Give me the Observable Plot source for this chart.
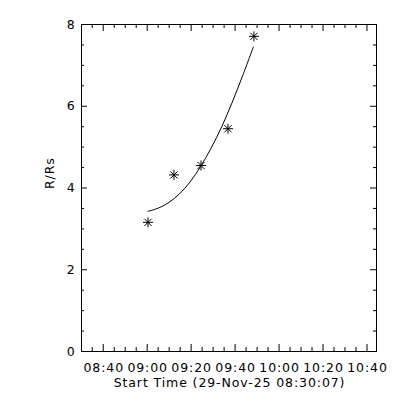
<!DOCTYPE html>
<html><head><meta charset="utf-8">
<script src="https://cdn.jsdelivr.net/npm/d3@7"></script>
<script src="https://cdn.jsdelivr.net/npm/@observablehq/plot@0.6"></script>
<style>html,body{margin:0;padding:0;background:#fff;}</style>
</head><body><div id="chart"></div>
<script>
// ---- data ----
const day = "2025-11-29";
const xDomain = ["08:30:07", "10:44:20"];
const obsTimes = ["09:00:23", "09:12:12", "09:24:29", "09:36:45", "09:48:34"];
const obsR = [3.16, 4.32, 4.55, 5.45, 7.71];
const fitTimes = ["09:00:23", "09:05:10", "09:09:58", "09:14:45", "09:19:33", "09:24:21", "09:29:08", "09:33:56", "09:38:43", "09:43:31", "09:48:18"];
const fitR = [3.43, 3.51, 3.65, 3.86, 4.15, 4.53, 4.98, 5.50, 6.10, 6.76, 7.45];
const xTickLabels = ["08:40", "09:00", "09:20", "09:40", "10:00", "10:20", "10:40"];
const xMinorTicks = ["08:35","08:45","08:50","08:55","09:05","09:10","09:15","09:25","09:30","09:35","09:45","09:50","09:55","10:05","10:10","10:15","10:25","10:30","10:35"];
const yTicks = [0, 2, 4, 6, 8];
const yMinorTicks = [0.5, 1, 1.5, 2.5, 3, 3.5, 4.5, 5, 5.5, 6.5, 7, 7.5];
const xLabel = "Start Time (29-Nov-25 08:30:07)";
const yLabel = "R/Rs";

const T = s => new Date(`${day}T${s.length === 5 ? s + ":00" : s}Z`);
const obs = obsTimes.map((t, i) => ({t: T(t), r: obsR[i]}));
const fit = fitTimes.map((t, i) => ({t: T(t), r: fitR[i]}));
const xMaj = xTickLabels.map(s => ({t: T(s), label: s}));
const xMin = xMinorTicks.map(s => ({t: T(s)}));

const W = 400, H = 400, mL = 81, mR = 24, mT = 24, mB = 49;
const pw = W - mL - mR, ph = H - mT - mB;

// 8-armed asterisk like IDL psym=2
const asterisk = {
  draw(ctx, size) {
    const r = Math.sqrt(size / Math.PI);
    const d = r * 0.72;
    ctx.moveTo(-r, 0); ctx.lineTo(r, 0);
    ctx.moveTo(0, -r); ctx.lineTo(0, r);
    ctx.moveTo(-d, -d); ctx.lineTo(d, d);
    ctx.moveTo(-d, d); ctx.lineTo(d, -d);
  }
};

const font = "'DejaVu Sans', sans-serif";
const chart = Plot.plot({
  width: W, height: H,
  marginLeft: mL, marginRight: mR, marginTop: mT, marginBottom: mB,
  style: {background: "#fff", fontFamily: font, fontSize: "12.5px", letterSpacing: "0.9px", color: "#000"},
  x: {type: "utc", domain: xDomain.map(T), axis: null},
  y: {domain: [0, 8], axis: null},
  marks: [
    Plot.frame({stroke: "#000", strokeWidth: 1}),
    // x ticks, bottom and top, pointing inward
    Plot.tickX(xMaj, {x: "t", insetTop: ph - 7, stroke: "#000"}),
    Plot.tickX(xMaj, {x: "t", insetBottom: ph - 7, stroke: "#000"}),
    Plot.tickX(xMin, {x: "t", insetTop: ph - 4, stroke: "#000"}),
    Plot.tickX(xMin, {x: "t", insetBottom: ph - 4, stroke: "#000"}),
    // y ticks, left and right, pointing inward
    Plot.tickY(yTicks, {y: d => d, insetRight: pw - 6, stroke: "#000"}),
    Plot.tickY(yTicks, {y: d => d, insetLeft: pw - 6, stroke: "#000"}),
    Plot.tickY(yMinorTicks, {y: d => d, insetRight: pw - 3, stroke: "#000"}),
    Plot.tickY(yMinorTicks, {y: d => d, insetLeft: pw - 3, stroke: "#000"}),
    // tick labels
    Plot.text(xMaj, {x: "t", text: "label", frameAnchor: "bottom", dy: 16, dx: 0.5, lineAnchor: "middle", fill: "#000"}),
    Plot.text(yTicks, {y: d => d, text: d => String(d), frameAnchor: "left", dx: -6, textAnchor: "end", fill: "#000"}),
    // axis titles
    Plot.text([xLabel], {frameAnchor: "bottom", dy: 31, dx: 0.5, lineAnchor: "middle", fill: "#000"}),
    Plot.text([yLabel], {frameAnchor: "left", dx: -32, dy: 1, rotate: -90, lineAnchor: "middle", fill: "#000"}),
    // fit curve and observations
    Plot.line(fit, {x: "t", y: "r", curve: "catmull-rom", stroke: "#000", strokeWidth: 1}),
    Plot.dot(obs, {x: "t", y: "r", symbol: asterisk, r: 5, stroke: "#000", strokeWidth: 1, fill: "none"})
  ]
});
document.getElementById("chart").appendChild(chart);
</script>
</body></html>
